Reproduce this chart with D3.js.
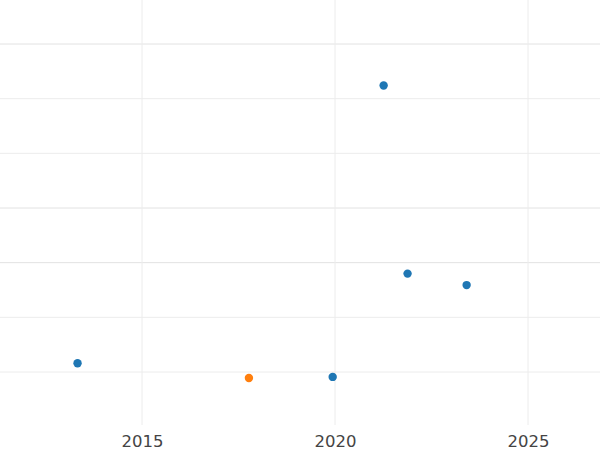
<!DOCTYPE html><html><head><script src="https://cdn.jsdelivr.net/npm/d3@7"></script>
<style>body{margin:0}</style></head><body><svg width="600" height="450"></svg>
<script>
const years=[2013.33,2017.77,2019.94,2021.26,2021.88,2023.41];
const values=[1.16,0.89,0.91,6.24,2.80,2.59];
const groups=["a","b","a","a","a","a"];
const xTicks=[2015,2020,2025];
const yTicks=[1,2,3,4,5,6,7];
const svg=d3.select("svg");
const x=d3.scaleLinear().domain([2015,2025]).range([142,528]);
const y=d3.scaleLinear().domain([1,7]).range([372,44]);
const color=d3.scaleOrdinal().domain(["a","b"]).range(["#1f77b4","#ff7f0e"]);
svg.append("g").selectAll("line").data(yTicks).join("line")
 .attr("x1",0).attr("x2",600).attr("y1",d=>y(d)).attr("y2",d=>y(d))
 .attr("stroke",d=>[3,4,7].includes(d)?"#e2e2e2":"#ececec");
svg.append("g").selectAll("line").data(xTicks).join("line")
 .attr("x1",d=>x(d)).attr("x2",d=>x(d)).attr("y1",0).attr("y2",425).attr("stroke","#ececec");
const ax=svg.append("g").attr("transform","translate(0,425)").call(d3.axisBottom(x).tickValues(xTicks).tickFormat(d3.format("d")).tickSize(0).tickPadding(10));
ax.select(".domain").remove();
ax.selectAll("text").attr("font-family","DejaVu Sans").attr("font-size",16.5).attr("fill","#444");
svg.append("g").selectAll("circle").data(years).join("circle")
 .attr("cx",d=>x(d)).attr("cy",(d,i)=>y(values[i])).attr("r",4.2).attr("fill",(d,i)=>color(groups[i]));
</script></body></html>
